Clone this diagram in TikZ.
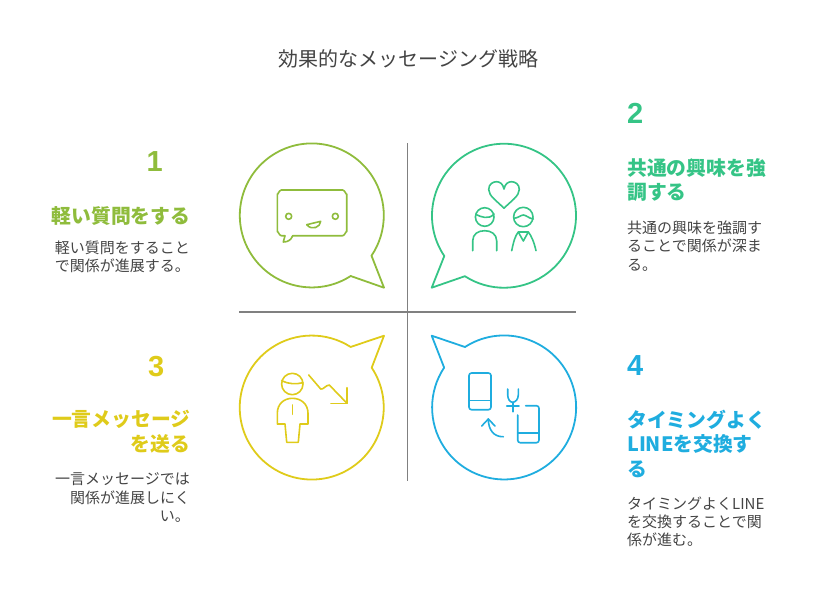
\documentclass[tikz,border=0pt]{standalone}
\usepackage{fontspec}
\setmainfont{Noto Sans CJK JP}
\newfontfamily\digitfont{Liberation Sans}

\definecolor{lime}{HTML}{8FBC3C}
\definecolor{jade}{HTML}{35C486}
\definecolor{gold}{HTML}{DFCB1A}
\definecolor{sky}{HTML}{1FADDF}
\definecolor{ink}{HTML}{444444}

\tikzset{
  num/.style={font=\fontsize{29}{29}\digitfont\bfseries, inner sep=0pt},
  head/.style={font=\fontsize{19.8}{24.5}\selectfont\bfseries, inner sep=0pt},
  body/.style={font=\fontsize{15}{18.3}\selectfont, text=ink, inner sep=0pt},
  icon/.style={line width=1.6pt, line join=round, line cap=round},
  bubble/.style={line width=1.8pt, line join=round}
}

\begin{document}
\begin{tikzpicture}[x=1pt,y=-1pt]

\useasboundingbox (0,0) rectangle (816,600);

% Title
\node [font=\fontsize{20}{20}\selectfont, text=ink, inner sep=0pt] (title) at (408.5,59) {効果的なメッセージング戦略};

% Cross lines
\coordinate (vtop) at (407.5,143);
\coordinate (vbot) at (407.5,481);
\coordinate (hleft) at (239,312);
\coordinate (hright) at (576,312);
\draw [line width=1.6pt, gray] (vtop) -- (vbot);
\draw [line width=1.6pt, gray] (hleft) -- (hright);

% Bubbles
\draw [bubble, lime] (384,287.7) -- (350.7,276) arc [start angle=57.3, end angle=394, radius=72] -- cycle;
\draw [bubble, jade] (431.7,287.7) -- (444.3,256) arc [start angle=146, end angle=482.9, radius=72] -- cycle;
\draw [bubble, gold] (384,335.7) -- (371.7,367.7) arc [start angle=-33.6, end angle=302.7, radius=72] -- cycle;
\draw [bubble, sky] (431.7,335.7) -- (465,347) arc [start angle=237.1, end angle=573.6, radius=72] -- cycle;

% Icon: chat face
\draw [icon, lime] (292.7,235.7) -- (342.7,235.7) to [out=0, in=90] (346.7,231.7) -- (346.7,194) to [out=-90, in=0] (342.7,190) -- (281.3,190) to [out=180, in=-90] (277.3,194) -- (277.3,231.7) to [out=90, in=180] (281.3,235.7) -- (285,235.7) -- (283.3,242) .. controls (288,242) and (291,240) .. (292.7,235.7);
\draw [icon, lime] (288.7,216.3) circle (3);
\draw [icon, lime] (335.3,216.3) circle (3);
\draw [icon, lime] (306.7,224.7) -- (320.7,221.3) .. controls (320.5,227) and (312,231) .. (306.7,224.7);

% Icon: two people and heart
\draw [icon, jade] (504,208.3) .. controls (497,201) and (488.7,196) .. (488.7,189.5) .. controls (488.7,184) and (493,181.7) .. (496.5,181.7) .. controls (500,181.7) and (503,184) .. (504,189) .. controls (505,184) and (508,181.7) .. (511.5,181.7) .. controls (515,181.7) and (519.3,184) .. (519.3,189.5) .. controls (519.3,196) and (511,201) .. (504,208.3);
\draw [icon, jade] (484.7,217) circle (9.3);
\draw [icon, jade] (476,214.5) .. controls (481,217) and (489,220) .. (494,214);
\draw [icon, jade] (472.7,250.7) -- (472.7,241) .. controls (472.7,234) and (478,230.7) .. (484.7,230.7) .. controls (491,230.7) and (496.7,234) .. (496.7,241) -- (496.7,250.7);
\draw [icon, jade] (523.3,217) circle (9.7);
\draw [icon, jade] (514,218.3) .. controls (518,218) and (521,215) .. (523.3,215) .. controls (526,215) and (529,218.5) .. (533.3,219);
\draw [icon, jade] (511.7,250.7) .. controls (513.5,242) and (515,236) .. (518.3,232) -- (528.3,232) .. controls (531.5,236) and (534,242) .. (536,250.7);
\draw [icon, jade] (518.3,232) -- (523.3,241) -- (528.3,232);

% Icon: person and falling arrow
\draw [icon, gold] (292.3,384) circle (10.7);
\draw [icon, gold] (281.7,380.7) .. controls (288,384) and (296,384.5) .. (303,382.7);
\draw [icon, gold] (277.3,424) -- (277.3,413.3) .. controls (277.3,404) and (284,398.3) .. (292.3,398.3) .. controls (301,398.3) and (308,404) .. (308,413.3) -- (308,424) -- (300,424) -- (298.3,442.3) -- (286.7,442.3) -- (285,424) -- cycle;
\draw [icon, gold] (292.3,405) -- (292.3,414.3);
\draw [icon, gold] (308.7,375) -- (320.7,389) .. controls (323,390) and (326,385) .. (329.3,385) -- (347,403.3);
\draw [icon, gold] (347,387.7) -- (347,403.3) -- (331,403.3);

% Icon: phones
\draw [icon, sky, rounded corners=2.5pt] (469,373) rectangle (491,409.7);
\draw [icon, sky] (469,400.3) -- (491,400.3);
\draw [icon, sky, rounded corners=2.5pt] (525.7,405.7) -- (539,405.7) -- (539,442.7) -- (517.7,442.7) -- (517.7,415);
\draw [icon, sky] (517.7,432.7) -- (539,432.7);
\draw [icon, sky] (507.7,389) -- (507.7,395) .. controls (507.7,399) and (510,402.3) .. (512.7,402.3) .. controls (515.5,402.3) and (518.3,399) .. (518.3,395) -- (518.3,389);
\draw [icon, sky] (512.7,402.3) -- (512.7,411.7);
\draw [icon, sky] (506.7,406) -- (519,406);
\draw [icon, sky] (503.3,436.7) .. controls (494,437) and (488.3,430) .. (488.3,419);
\draw [icon, sky] (481.7,426) -- (488.3,419) -- (495,426);

% Quadrant texts
\node [num, text=lime, anchor=east] (num1) at (163,161.5) {1};
\node [head, text=lime, anchor=east, align=right] (head1) at (190.5,216) {軽い質問をする};
\node [body, anchor=east, align=right] (body1) at (190,256.5) {軽い質問をすること\\で関係が進展する。};

\node [num, text=jade, anchor=west] (num2) at (627,113.5) {2};
\node [head, text=jade, anchor=west, align=left] (head2) at (627,180) {共通の興味を強\\調する};
\node [body, anchor=west, align=left] (body2) at (627,246) {共通の興味を強調す\\ることで関係が深ま\\る。};

\node [num, text=gold, anchor=east] (num3) at (164.5,366.5) {3};
\node [head, text=gold, anchor=east, align=right] (head3) at (190.5,431.5) {一言メッセージ\\を送る};
\node [body, anchor=east, align=right] (body3) at (190,497.5) {一言メッセージでは\\関係が進展しにく\\い。};

\node [num, text=sky, anchor=west] (num4) at (627,365.5) {4};
\node [head, text=sky, anchor=west, align=left] (head4) at (627,443.5) {タイミングよく\\LINEを交換す\\る};
\node [body, anchor=west, align=left] (body4) at (627,521.7) {タイミングよくLINE\\を交換することで関\\係が進む。};

\end{tikzpicture}
\end{document}
